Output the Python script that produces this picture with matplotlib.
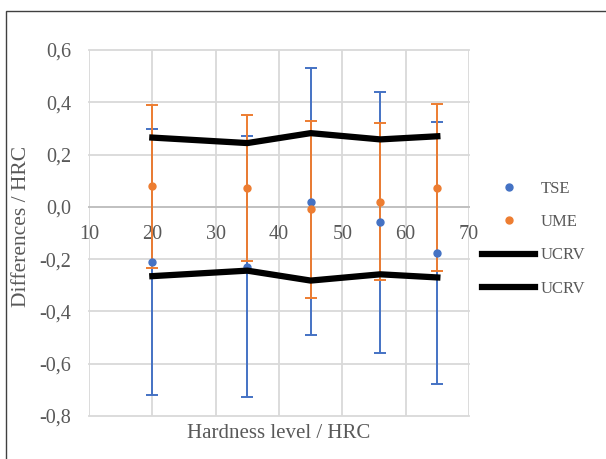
import matplotlib.pyplot as plt
from matplotlib.lines import Line2D
from matplotlib.patches import Rectangle
import numpy as np

plt.rcParams['font.family'] = ['Liberation Serif', 'DejaVu Serif']

# данни, отчетени от графиката
hardness = [20, 35, 45, 56, 65]
tse = [-0.211, -0.229, 0.020, -0.059, -0.177]
tse_err = [0.51, 0.50, 0.51, 0.50, 0.50]
ume = [0.078, 0.073, -0.010, 0.020, 0.073]
ume_err = [0.31, 0.28, 0.34, 0.30, 0.32]
ucrv = [0.265, 0.244, 0.282, 0.258, 0.270]
y_ticks = [-0.8, -0.6, -0.4, -0.2, 0.0, 0.2, 0.4, 0.6]

blue = '#4472C4'
orange = '#ED7D31'
grey_txt = '#595959'

fig = plt.figure(figsize=(6.06, 4.59), dpi=100)
ax = fig.add_axes([89 / 606, 1 - 416 / 459, (469 - 89) / 606, (416 - 50) / 459])

# рамка около цялата диаграма
fig.patches.append(Rectangle((6 / 606, -0.1), 1.2, 1 - 11 / 459 + 0.1,
                             transform=fig.transFigure, fill=False,
                             edgecolor='#404040', linewidth=1.0))

ax.errorbar(hardness, tse, yerr=tse_err, fmt='none', ecolor=blue,
            elinewidth=1.4, capsize=4, capthick=1.4, zorder=3)
ax.errorbar(hardness, ume, yerr=ume_err, fmt='none', ecolor=orange,
            elinewidth=1.4, capsize=4, capthick=1.4, zorder=3.5)
ax.plot(hardness, tse, 'o', color=blue, markersize=5, zorder=4)
ax.plot(hardness, ume, 'o', color=orange, markersize=5, zorder=4)
ax.plot(hardness, ucrv, color='black', linewidth=4.5, zorder=5)
ax.plot(hardness, [-v for v in ucrv], color='black', linewidth=4.5, zorder=5)

ax.set_xlim(10, 70)
ax.set_ylim(-0.8, 0.6)
ax.set_xticks(np.arange(10, 71, 10))
ax.set_yticks(y_ticks)
ax.set_yticklabels([f'{v:.1f}'.replace('.', ',') for v in y_ticks])
ax.grid(True, color='#d9d9d9', linewidth=1.3, zorder=0)
for gl in ax.get_xgridlines() + ax.get_ygridlines():
    gl.set_clip_on(False)
ax.set_axisbelow(True)
for s in ['left', 'right', 'top']:
    ax.spines[s].set_visible(False)
ax.spines['bottom'].set_position(('data', 0))
ax.spines['bottom'].set_color('#bfbfbf')
ax.spines['bottom'].set_linewidth(1.3)
ax.tick_params(length=0, labelsize=14.5, labelcolor=grey_txt)
ax.tick_params(axis='y', pad=13)
ax.tick_params(axis='x', pad=13)

fig.text(279 / 606, 1 - 434 / 459, 'Hardness level / HRC', ha='center', va='center',
         fontsize=15, color=grey_txt)
fig.text(22 / 606, 1 - 226 / 459, 'Differences / HRC', ha='center', va='center',
         rotation=90, fontsize=15.5, color=grey_txt)

handles = [Line2D([], [], marker='o', linestyle='none', color=blue, markersize=5),
           Line2D([], [], marker='o', linestyle='none', color=orange, markersize=5),
           Line2D([], [], color='black', linewidth=4.5),
           Line2D([], [], color='black', linewidth=4.5)]
leg = fig.legend(handles, ['TSE', 'UME', 'UCRV', 'UCRV'], loc='upper left',
                 bbox_to_anchor=(482 / 606, 1 - 181 / 459), frameon=False,
                 fontsize=12, handlelength=3.2, handletextpad=0.3,
                 labelspacing=1.03, borderpad=0, borderaxespad=0)
for t in leg.get_texts():
    t.set_color(grey_txt)

fig.savefig('out.png', dpi=100)
